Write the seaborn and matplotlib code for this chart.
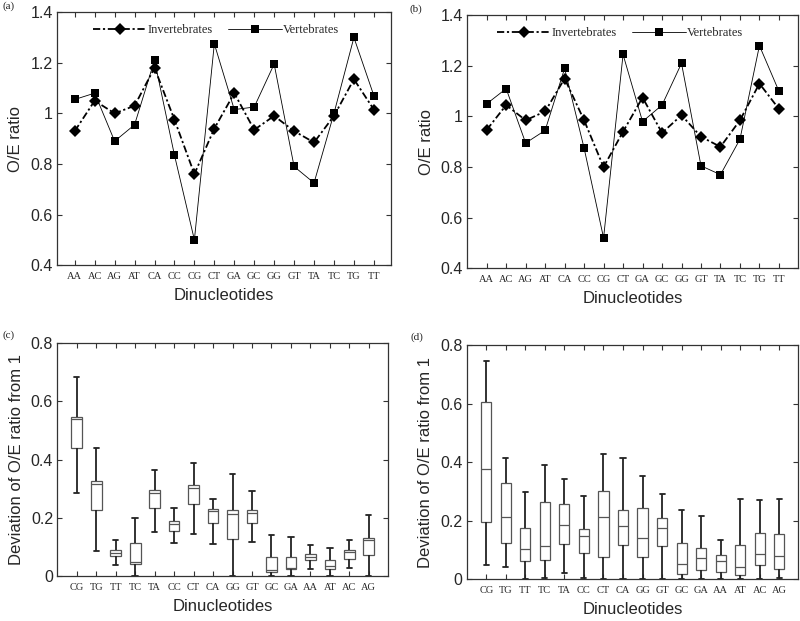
import matplotlib
matplotlib.use('Agg')
import matplotlib.pyplot as plt
import pandas as pd
import seaborn as sns
from matplotlib.ticker import FuncFormatter, MultipleLocator

# O/E ratios per dinucleotide, panels (a) and (b)
dinucs = ['AA', 'AC', 'AG', 'AT', 'CA', 'CC', 'CG', 'CT',
          'GA', 'GC', 'GG', 'GT', 'TA', 'TC', 'TG', 'TT']
inv_a = [0.93, 1.05, 1.00, 1.03, 1.18, 0.975, 0.76, 0.94,
         1.08, 0.935, 0.99, 0.93, 0.885, 0.99, 1.135, 1.015]
vert_a = [1.055, 1.08, 0.89, 0.955, 1.21, 0.835, 0.50, 1.275,
          1.015, 1.025, 1.195, 0.79, 0.725, 1.00, 1.30, 1.07]
inv_b = [0.947, 1.045, 0.985, 1.02, 1.15, 0.985, 0.80, 0.94,
         1.075, 0.935, 1.005, 0.92, 0.88, 0.985, 1.13, 1.03]
vert_b = [1.05, 1.11, 0.895, 0.945, 1.19, 0.875, 0.52, 1.245,
          0.98, 1.045, 1.21, 0.805, 0.77, 0.91, 1.28, 1.10]

# deviation from 1, box statistics, panels (c) and (d)
box_order = ['CG', 'TG', 'TT', 'TC', 'TA', 'CC', 'CT', 'CA',
             'GG', 'GT', 'GC', 'GA', 'AA', 'AT', 'AC', 'AG']
c_low = [0.286, 0.087, 0.038, 0.0, 0.150, 0.114, 0.145, 0.111,
         0.0, 0.117, 0.0, 0.0, 0.023, 0.0, 0.026, 0.0]
c_q1 = [0.440, 0.226, 0.069, 0.040, 0.234, 0.155, 0.246, 0.182,
        0.128, 0.182, 0.014, 0.023, 0.055, 0.023, 0.060, 0.073]
c_med = [0.538, 0.315, 0.080, 0.047, 0.287, 0.180, 0.303, 0.222,
         0.214, 0.217, 0.021, 0.027, 0.066, 0.035, 0.083, 0.122]
c_q3 = [0.546, 0.325, 0.089, 0.114, 0.294, 0.188, 0.312, 0.230,
        0.228, 0.226, 0.066, 0.066, 0.076, 0.054, 0.091, 0.131]
c_high = [0.685, 0.440, 0.122, 0.199, 0.365, 0.234, 0.389, 0.266,
          0.352, 0.292, 0.141, 0.133, 0.106, 0.096, 0.124, 0.211]

d_low = [0.049, 0.043, 0.001, 0.005, 0.020, 0.003, 0.001, 0.001,
         0.001, 0.001, 0.001, 0.001, 0.001, 0.001, 0.001, 0.003]
d_q1 = [0.195, 0.125, 0.061, 0.067, 0.122, 0.089, 0.075, 0.118,
        0.075, 0.114, 0.017, 0.032, 0.024, 0.014, 0.049, 0.035]
d_med = [0.376, 0.214, 0.104, 0.113, 0.186, 0.148, 0.214, 0.182,
         0.140, 0.176, 0.054, 0.072, 0.063, 0.041, 0.087, 0.081]
d_q3 = [0.606, 0.328, 0.175, 0.264, 0.257, 0.173, 0.302, 0.237,
        0.242, 0.211, 0.125, 0.107, 0.084, 0.118, 0.159, 0.156]
d_high = [0.747, 0.415, 0.297, 0.392, 0.344, 0.286, 0.427, 0.413,
          0.353, 0.291, 0.237, 0.217, 0.135, 0.273, 0.271, 0.273]

sns.set_style('ticks')
plt.rcParams['font.family'] = ['Liberation Sans', 'DejaVu Sans']
plt.rcParams['axes.edgecolor'] = '#333333'
plt.rcParams['axes.linewidth'] = 0.9

SERIF = ['Liberation Serif', 'DejaVu Serif']
fmt = FuncFormatter(lambda v, p: '%g' % round(v, 2))


def style_axes(ax, ylabel):
    ax.tick_params(direction='in', top=True, right=True, length=3.5, width=0.8,
                   color='#333333', labelsize=11.5, pad=3)
    ax.tick_params(axis='x', labelsize=7.5, pad=5)
    for t in ax.get_xticklabels():
        t.set_family(SERIF)
    ax.yaxis.set_major_formatter(fmt)
    ax.set_xlabel('Dinucleotides', fontsize=12, labelpad=5)
    ax.set_ylabel(ylabel, fontsize=12, labelpad=5)


def draw_lines(ax, inv, vert, leg_x):
    df = pd.DataFrame({'dinuc': dinucs * 2,
                       'ratio': inv + vert,
                       'group': ['Invertebrates'] * 16 + ['Vertebrates'] * 16})
    sns.lineplot(data=df, x='dinuc', y='ratio', hue='group', style='group',
                 palette={'Invertebrates': 'black', 'Vertebrates': 'black'},
                 markers={'Invertebrates': 'D', 'Vertebrates': 's'},
                 dashes={'Invertebrates': (4, 1.5, 1.2, 1.5), 'Vertebrates': ''},
                 sort=False, legend=False, ax=ax)
    lines = ax.get_lines()
    lines[0].set_linewidth(1.3)
    lines[0].set_markersize(6.5)
    lines[1].set_linewidth(0.6)
    lines[1].set_markersize(5.5)
    for ln in lines[:2]:
        ln.set_markeredgewidth(0)
    ax.legend(lines[:2], ['Invertebrates', 'Vertebrates'], ncol=2, frameon=False,
              loc='center left', bbox_to_anchor=(leg_x, 0.93), handlelength=4.3,
              handletextpad=0.1, columnspacing=1.2, borderpad=0, borderaxespad=0,
              prop={'family': SERIF, 'size': 9})
    ax.set_ylim(0.4, 1.4)
    ax.yaxis.set_major_locator(MultipleLocator(0.2))
    style_axes(ax, 'O/E ratio')


def draw_box(ax, low, q1, med, q3, high, width):
    rows = []
    for k, name in enumerate(box_order):
        for v in (low[k], q1[k], med[k], q3[k], high[k]):
            rows.append((name, v))
    df = pd.DataFrame(rows, columns=['dinuc', 'dev'])
    sns.boxplot(data=df, x='dinuc', y='dev', order=box_order, whis=(0, 100),
                width=width, color='white', linecolor='#555555', linewidth=0.9,
                whiskerprops=dict(color='#222222', linewidth=1.3),
                capprops=dict(color='#222222', linewidth=1.3),
                medianprops=dict(color='#555555', linewidth=0.9), ax=ax)
    ax.set_ylim(0, 0.8)
    ax.yaxis.set_major_locator(MultipleLocator(0.2))
    style_axes(ax, 'Deviation of O/E ratio from 1')


fig = plt.figure(figsize=(8, 6.21), dpi=100)
ax_a = fig.add_axes([0.071, 0.573, 0.4175, 0.4074])
ax_b = fig.add_axes([0.584, 0.568, 0.414, 0.4074])
ax_c = fig.add_axes([0.0716, 0.0725, 0.413, 0.3747])
ax_d = fig.add_axes([0.5834, 0.0671, 0.414, 0.3773])

draw_lines(ax_a, inv_a, vert_a, 0.108)
ax_a.set_xlim(-0.9, 15.85)
draw_lines(ax_b, inv_b, vert_b, 0.09)
ax_b.set_xlim(-1, 16)
draw_box(ax_c, c_low, c_q1, c_med, c_q3, c_high, 0.55)
ax_c.set_xlim(-1, 15.97)
draw_box(ax_d, d_low, d_q1, d_med, d_q3, d_high, 0.52)
ax_d.set_xlim(-1, 15.95)

for lab, x, y in [('(a)', 0.003, 0.997), ('(b)', 0.512, 0.993),
                  ('(c)', 0.003, 0.468), ('(d)', 0.513, 0.465)]:
    fig.text(x, y, lab, family=SERIF, fontsize=8, va='top', ha='left')

fig.savefig('out.png', dpi=100)
